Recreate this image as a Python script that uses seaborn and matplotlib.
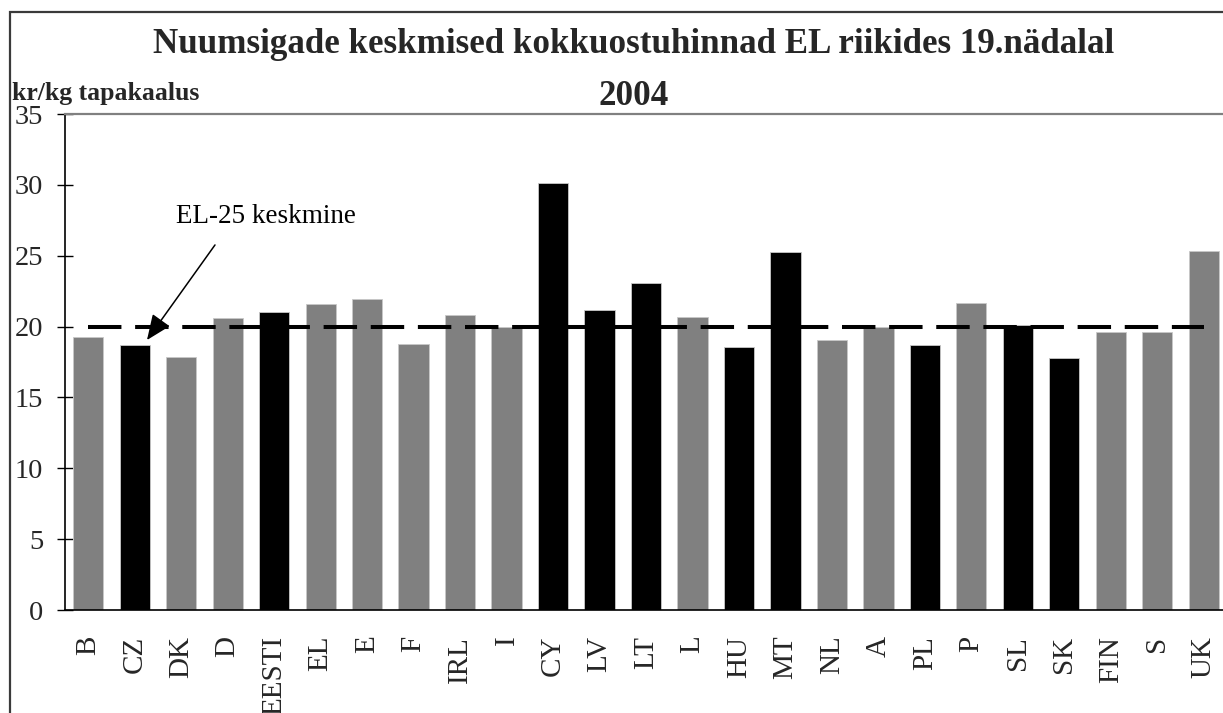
import matplotlib
matplotlib.use("Agg")
import matplotlib.pyplot as plt
import matplotlib.patches as mpatches
import seaborn as sns
import pandas as pd
import numpy as np

countries = ["B", "CZ", "DK", "D", "EESTI", "EL", "E", "F", "IRL", "I", "CY", "LV", "LT",
             "L", "HU", "MT", "NL", "A", "PL", "P", "SL", "SK", "FIN", "S", "UK"]
prices = [19.24, 18.68, 17.88, 20.58, 21.05, 21.62, 21.95, 18.77, 20.82, 19.95, 30.11, 21.17, 23.08,
          20.70, 18.56, 25.24, 19.05, 19.95, 18.68, 21.64, 20.09, 17.78, 19.60, 19.60, 25.36]
groups = ["old", "new", "old", "old", "new", "old", "old", "old", "old", "old", "new", "new", "new",
          "old", "new", "new", "old", "old", "new", "old", "new", "new", "old", "old", "old"]
eu_average = 20.0
yticks = [0, 5, 10, 15, 20, 25, 30, 35]

title_line1 = "Nuumsigade keskmised kokkuostuhinnad EL riikides 19.nädalal"
title_line2 = "2004"
y_unit = "kr/kg tapakaalus"
avg_label = "EL-25 keskmine"

sns.set_theme(style="white")
plt.rcParams["font.family"] = ["Liberation Serif", "DejaVu Serif"]

W, H = 1223, 713
fig = plt.figure(figsize=(W / 100, H / 100), dpi=100)
fig.patch.set_facecolor("white")

# outer chart border
fig.patches.append(mpatches.Rectangle((10 / W, -0.2), 1.5, (H - 12) / H + 0.2,
                                      transform=fig.transFigure, fill=False,
                                      edgecolor="#3a3a3a", linewidth=1.6))

left_px, right_px, top_px, bottom_px = 65, 1227, 114, 610
ax = fig.add_axes([left_px / W, (H - bottom_px) / H, (right_px - left_px) / W,
                   (bottom_px - top_px) / H])

df = pd.DataFrame({"country": countries, "price": prices, "group": groups})
sns.barplot(data=df, x="country", y="price", hue="group", order=countries,
            palette={"old": "#808080", "new": "#000000"}, dodge=False,
            width=0.65, legend=False, ax=ax, edgecolor="#c8c8c8", linewidth=0.6,
            saturation=1)

n = len(countries)
ax.plot(np.arange(n), [eu_average] * n, color="black", lw=2.9,
        dashes=(8.3, 3.4), solid_capstyle="butt", dash_capstyle="butt", zorder=5)

ax.set_xlim(-0.5, n - 0.5)
ax.set_ylim(0, 35)
ax.set_yticks(yticks)
ax.set_yticklabels([str(t) for t in yticks], fontsize=20.5)
ax.set_xticks(np.arange(n))
ax.set_xticklabels(countries, rotation=90, fontsize=21)
ax.set_xticks(np.arange(n + 1) - 0.5, minor=True)
ax.tick_params(axis="x", which="major", length=0, pad=18.5)
ax.tick_params(axis="x", which="minor", direction="inout", length=14.4, width=1, color="black")
ax.tick_params(axis="y", direction="inout", length=11.5, width=1, color="black", pad=10,
               left=True)
ax.set_xlabel("")
ax.set_ylabel("")

for s in ["left", "bottom"]:
    ax.spines[s].set_color("black")
    ax.spines[s].set_linewidth(1.2)
ax.spines["top"].set_color("#808080")
ax.spines["top"].set_linewidth(1.6)
ax.spines["right"].set_visible(False)

# annotation
ax.text(1.888, 27.33, avg_label, fontsize=19.5, va="baseline", ha="left", color="black")
ax.annotate("", xy=(1.264, 19.05), xytext=(2.727, 25.76),
            arrowprops=dict(arrowstyle="-|>,head_length=1.3,head_width=0.55",
                            color="black", lw=1.1, shrinkA=0, shrinkB=0),
            zorder=6)

# titles
fig.text(634 / W, (H - 53) / H, title_line1, fontsize=25.2, fontweight="bold",
         ha="center", va="baseline")
fig.text(634 / W, (H - 105) / H, title_line2, fontsize=25.2, fontweight="bold",
         ha="center", va="baseline")
fig.text(12 / W, (H - 100) / H, y_unit, fontsize=18.5, fontweight="bold",
         ha="left", va="baseline")

fig.savefig("out.png", dpi=100)
